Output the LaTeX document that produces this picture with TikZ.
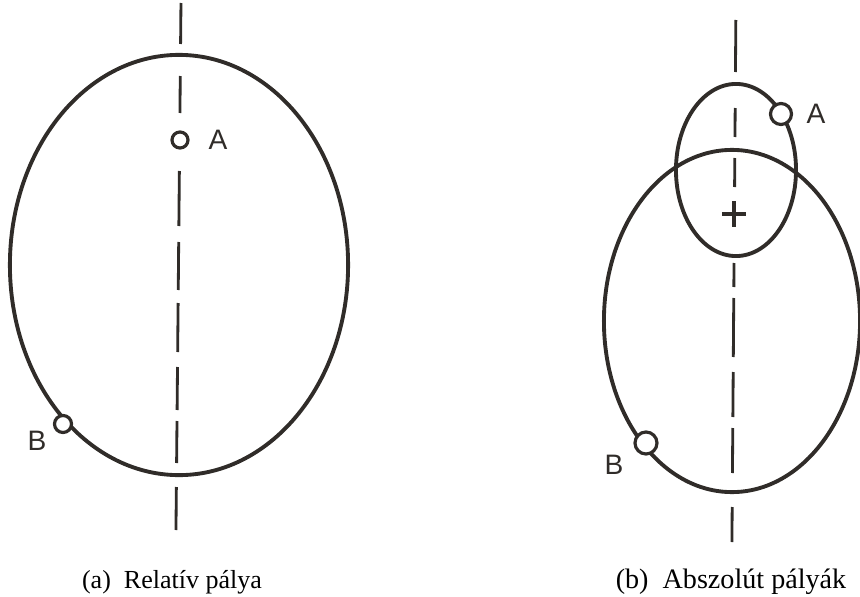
\documentclass[tikz,border=0pt]{standalone}
\usepackage{fontspec}
\setmainfont{Liberation Serif}
\setsansfont{Liberation Sans}
\usetikzlibrary{positioning}
\definecolor{ink}{HTML}{302C29}

\begin{document}
\begin{tikzpicture}[x=0.01cm, y=-0.01cm,
            orbit/.style={draw=ink, line width=1.1pt},
            axisdash/.style={draw=ink, line width=0.8pt},
            pt/.style={circle, draw=ink, fill=white, line width=0.9pt, minimum size=#1, inner sep=0pt},
            lbl/.style={font=\sffamily\fontsize{8}{9}\selectfont, text=ink, inner sep=0pt},
            capt/.style={font=\fontsize{7.4}{9}\selectfont, text=black, inner sep=0pt, anchor=base}
        ]
        \useasboundingbox (0,0) rectangle (860,597);
        % (a) relative path
        \draw[orbit] (179,265) ellipse [x radius=1.69cm, y radius=2.10cm];
        \foreach \a/\b in {3/44, 76/113, 171/226, 242/290, 303/352, 367/410, 421/463, 487/530}
            \draw[axisdash] ({181-0.0095*\a},\a) -- ({181-0.0095*\b},\b);
        \node[pt=0.16cm] (pA) at (180,140) {};
        \node[pt=0.17cm] (pB) at (63,424) {};
        \node[lbl] (lA) at (218,140) {A};
        \node[lbl] (lB) at (37,441) {B};
        \node[capt] (ca) at (172,588) {(a)\enspace Relatív pálya};
        % (b) absolute paths
        \draw[orbit] (732,321) ellipse [x radius=1.28cm, y radius=1.71cm];
        \draw[orbit] (736,170) ellipse [x radius=0.60cm, y radius=0.86cm];
        \foreach \a/\b in {20/72, 108/137, 158/187, 263/287, 298/357, 372/417, 428/473, 507/542}
            \draw[axisdash] ({736-0.0075*\a},\a) -- ({736-0.0075*\b},\b);
        \coordinate (cc) at (734,214);
        \draw[axisdash, line width=1pt] ([yshift=-0.125cm]cc) -- ([yshift=0.125cm]cc);
        \draw[axisdash, line width=1pt] ([xshift=-0.12cm]cc) -- ([xshift=0.12cm]cc);
        \node[pt=0.21cm] (qA) at (781,114) {};
        \node[pt=0.22cm] (qB) at (646,443) {};
        \node[lbl] (mA) at (816,114) {A};
        \node[lbl] (mB) at (614,465) {B};
        \node[capt, font=\fontsize{8}{9}\selectfont] (cb) at (731,588) {(b)\enspace Abszolút pályák};
    \end{tikzpicture}
\end{document}
